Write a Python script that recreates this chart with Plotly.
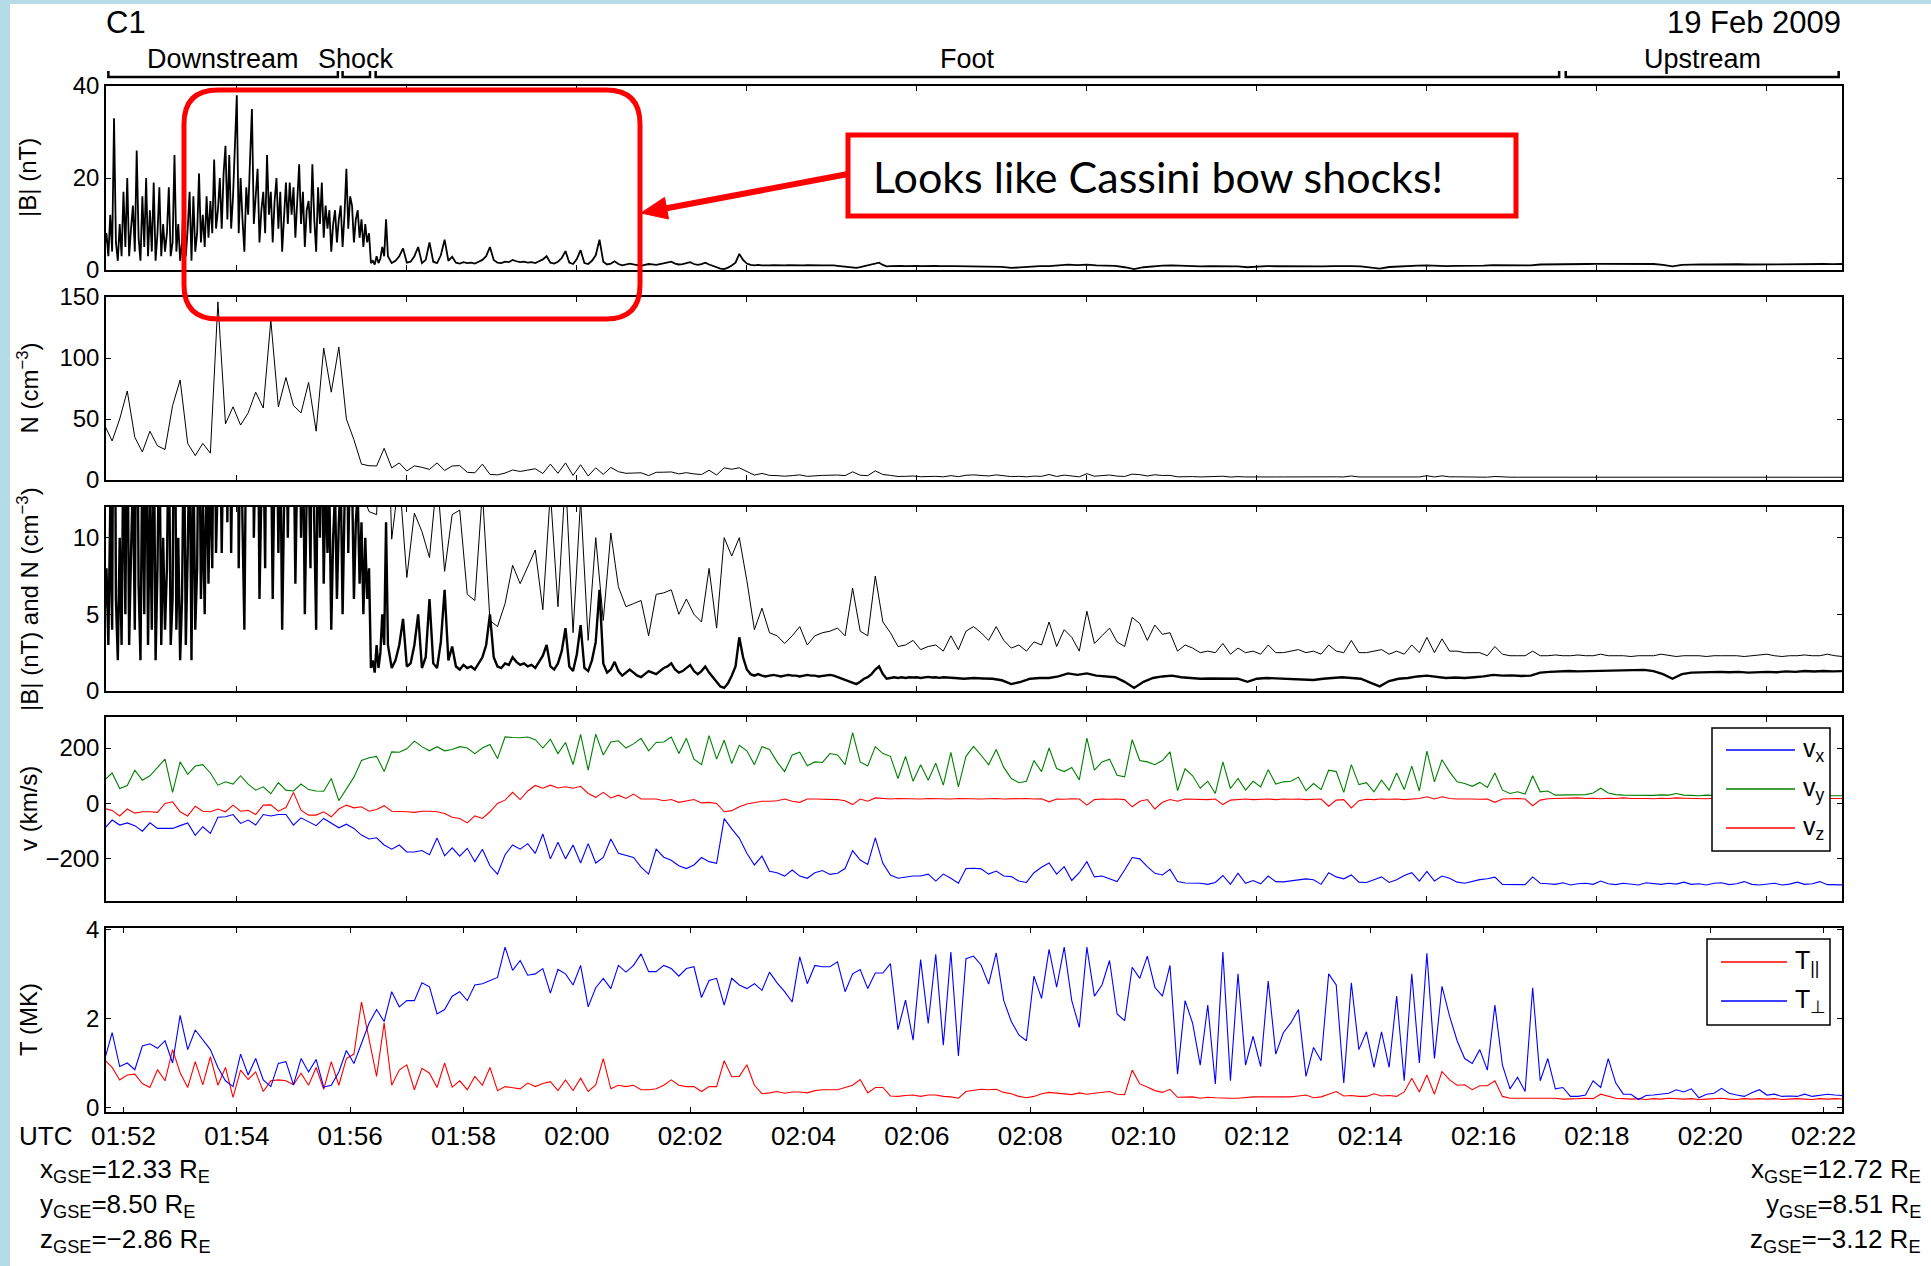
import numpy as np
import pandas as pd
import plotly.graph_objects as go

W, H = 1931, 1266
DAY = "2009-02-19"
FONT = "Liberation Sans, Arial, Helvetica, sans-serif"

# ---------------------------------------------------------------- data
# Ion moments, one sample every 8 s starting 01:51:40 UT
MOM_START, MOM_STEP_S = "01:51:40", 8

n_cm3 = [
    45, 32, 50, 73, 35, 23, 40, 28, 25, 61,
    82, 30, 20, 30, 22, 146, 46, 60, 45, 55,
    72, 59, 131, 60, 84, 61, 55, 80, 40, 108,
    72, 109, 50, 33, 13, 11.7, 11.5, 26, 9.9, 14,
    7.4, 11.6, 10.4, 8.7, 14, 7.8, 11.5, 11.8, 6.3, 5.9,
    13, 4.6, 4.2, 5.7, 8.2, 7.0, 8.1, 9.2, 5.3, 13,
    5.5, 14, 3.8, 12.5, 3.3, 10, 4.6, 10.3, 6.8, 5.5,
    5.7, 5.9, 3.6, 6.3, 6.4, 6.6, 5.0, 6.0, 5.0, 4.5,
    8.0, 4.1, 10.0, 8.8, 10.0, 7.2, 4.0, 5.4, 3.8, 3.6,
    3.1, 3.6, 4.2, 3.0, 3.6, 3.8, 3.9, 4.1, 3.6, 6.7,
    3.9, 3.6, 7.5, 4.5, 3.8, 2.9, 3.0, 3.3, 2.7, 2.9,
    3.0, 2.6, 3.6, 2.7, 3.9, 4.2, 3.8, 3.3, 4.2, 3.3,
    2.8, 3.0, 2.6, 3.2, 3.0, 4.5, 2.9, 4.0, 3.5, 2.6,
    5.2, 3.1, 3.6, 4.1, 3.2, 2.9, 4.8, 4.4, 3.3, 4.3,
    3.7, 3.8, 2.6, 3.0, 2.8, 2.5, 2.6, 2.5, 3.1, 2.4,
    2.8, 2.5, 2.6, 2.4, 3.0, 2.5, 2.5, 2.6, 2.7, 2.5,
    2.6, 2.4, 3.0, 2.6, 2.5, 3.3, 2.5, 2.5, 2.6, 2.7,
    2.4, 2.6, 2.4, 3.0, 2.5, 3.5, 2.5, 3.4, 2.6, 2.6,
    2.5, 2.5, 2.5, 2.3, 2.9, 2.4, 2.3, 2.3, 2.3, 2.6,
    2.3, 2.3, 2.35, 2.3, 2.3, 2.35, 2.3, 2.3, 2.4, 2.3,
    2.3, 2.3, 2.25, 2.3, 2.3, 2.3, 2.4, 2.3, 2.25, 2.3,
    2.3, 2.3, 2.25, 2.3, 2.3, 2.3, 2.3, 2.25, 2.3, 2.35,
    2.4, 2.3, 2.25, 2.3, 2.3, 2.35, 2.3, 2.3, 2.4, 2.3,
    2.25,
]

vx_kms = [
    -90, -60, -78, -70, -80, -100, -70, -90, -90, -90,
    -80, -70, -115, -84, -108, -50, -48, -40, -72, -60,
    -78, -40, -45, -40, -40, -78, -52, -65, -80, -54,
    -72, -88, -75, -90, -114, -128, -124, -150, -165, -150,
    -175, -175, -170, -185, -125, -189, -160, -190, -162, -210,
    -165, -225, -255, -185, -150, -165, -145, -180, -110, -200,
    -140, -200, -150, -215, -145, -215, -195, -128, -180, -188,
    -195, -230, -255, -165, -194, -205, -225, -235, -222, -195,
    -210, -216, -55, -92, -125, -180, -222, -190, -245, -250,
    -262, -240, -262, -270, -250, -242, -256, -252, -235, -170,
    -204, -220, -124, -216, -258, -270, -265, -262, -262, -255,
    -280, -255, -270, -288, -235, -234, -236, -255, -244, -262,
    -264, -280, -285, -250, -230, -215, -255, -228, -278, -250,
    -210, -265, -262, -272, -282, -240, -195, -200, -228, -252,
    -258, -238, -282, -287, -288, -288, -292, -285, -260, -292,
    -252, -288, -278, -290, -262, -282, -283, -280, -276, -272,
    -275, -292, -250, -265, -272, -258, -284, -285, -275, -265,
    -285, -275, -260, -250, -280, -245, -280, -262, -270, -284,
    -288, -282, -275, -272, -266, -292, -293, -294, -293, -265,
    -288, -290, -292, -286, -294, -290, -288, -292, -280, -290,
    -293, -288, -290, -294, -286, -290, -292, -288, -291, -284,
    -292, -290, -294, -288, -286, -293, -290, -282, -292, -294,
    -290, -288, -294, -291, -284, -292, -290, -282, -293, -294,
    -294,
]

vy_kms = [
    84, 110, 54, 65, 120, 84, 100, 130, 160, 40,
    150, 105, 135, 140, 110, 66, 78, 70, 100, 70,
    48, 60, 35, 75, 48, 45, 70, 50, 45, 44,
    90, 10, 54, 95, 155, 165, 170, 115, 186, 185,
    197, 225, 205, 190, 205, 190, 195, 205, 200, 180,
    200, 213, 162, 240, 238, 237, 240, 230, 200, 232,
    180, 220, 140, 249, 120, 250, 175, 222, 226, 200,
    215, 235, 190, 220, 222, 240, 180, 235, 160, 140,
    245, 160, 228, 144, 210, 190, 140, 205, 195, 150,
    115, 175, 185, 136, 150, 148, 180, 175, 140, 256,
    150, 135, 205, 180, 170, 90, 170, 80, 140, 84,
    145, 66, 184, 60, 170, 206, 174, 140, 195, 130,
    90, 75, 80, 155, 115, 200, 126, 115, 130, 85,
    236, 120, 150, 160, 102, 96, 230, 155, 150, 140,
    155, 186, 46, 125, 100, 55, 80, 36, 150, 54,
    90, 48, 80, 60, 122, 70, 78, 80, 95, 46,
    72, 50, 120, 115, 40, 140, 68, 75, 42, 84,
    48, 110, 50, 135, 45, 189, 78, 158, 114, 78,
    72, 62, 76, 58, 110, 48, 36, 42, 34, 100,
    42, 45, 30, 30, 30, 30, 32, 38, 55, 38,
    32, 30, 30, 28, 30, 29, 31, 30, 36, 30,
    29, 28, 30, 29, 28, 30, 29, 28, 29, 30,
    28, 29, 28, 30, 29, 28, 29, 28, 28, 29,
    28,
]

vz_kms = [
    -18, -25, -45, -20, -35, -30, -30, -32, 0, 6,
    -30, -45, -10, -28, -30, -20, -30, -6, -28, -25,
    -40, -6, -5, -28, -15, 40, -24, -42, -42, -30,
    -48, -20, -6, -16, -12, -28, -22, -8, -28, -28,
    -30, -32, -28, -28, -30, -36, -50, -54, -70, -45,
    -54, -30, 0, 12, 40, 14, 45, 65, 55, 66,
    56, 60, 55, 62, 36, 22, 40, 20, 30, 18,
    34, 16, 16, 16, 10, 14, 4, 8, 14, 2,
    4, 0, -30, -26, -12, -2, 4, 8, 8, 10,
    16, 8, 4, 16, 16, 16, 16, 14, 10, -4,
    16, 8, 20, 18, 16, 18, 17, 18, 16, 18,
    17, 18, 16, 18, 17, 18, 16, 17, 18, 16,
    17, 16, 18, 16, 17, 6, 16, 15, 17, 16,
    -6, 14, 16, 15, 16, 14, -12, 8, 14, -20,
    4, 14, 8, 16, 15, 16, 14, 16, -4, 12,
    15, 16, 14, 15, 16, 14, 16, 15, 16, 14,
    15, 16, -10, 12, 14, -16, 10, 15, 14, 16,
    15, 16, 14, 16, 18, 24, 16, 24, 18, 16,
    17, 16, 15, 16, 4, 16, 17, 18, 16, -8,
    12, 17, 18, 19, 18, 20, 18, 19, 17, 19,
    18, 20, 18, 19, 18, 17, 19, 18, 20, 19,
    18, 19, 17, 19, 18, 20, 18, 19, 18, 17,
    18, 19, 20, 18, 19, 18, 17, 19, 18, 19,
    18,
]

t_par_mk = [
    1.07, 0.9, 0.62, 0.73, 0.75, 0.54, 0.45, 0.85, 0.6, 1.3,
    0.78, 0.45, 1.03, 0.51, 1.14, 0.5, 0.9, 0.23, 0.84, 0.63,
    0.8, 0.36, 0.6, 0.62, 0.6, 0.51, 0.77, 0.5, 0.9, 0.41,
    1.03, 0.5, 1.1, 1.2, 2.37, 1.5, 0.7, 1.9, 0.5, 0.84,
    0.96, 0.4, 0.88, 0.77, 0.45, 1.0, 0.46, 0.6, 0.4, 0.7,
    0.5, 0.9, 0.38, 0.47, 0.45, 0.42, 0.55, 0.47, 0.54, 0.58,
    0.38, 0.62, 0.38, 0.66, 0.36, 0.51, 1.1, 0.42, 0.5, 0.47,
    0.5, 0.4, 0.4, 0.42, 0.5, 0.62, 0.5, 0.47, 0.47, 0.36,
    0.47, 0.47, 1.05, 0.69, 0.7, 0.96, 0.5, 0.31, 0.33, 0.36,
    0.32, 0.35, 0.35, 0.33, 0.38, 0.4, 0.4, 0.4, 0.45, 0.5,
    0.63, 0.33, 0.45, 0.45, 0.26, 0.25, 0.27, 0.28, 0.25, 0.28,
    0.28, 0.25, 0.24, 0.21, 0.36, 0.38, 0.41, 0.4, 0.41, 0.34,
    0.31, 0.25, 0.22, 0.25, 0.31, 0.34, 0.32, 0.31, 0.29, 0.33,
    0.3, 0.32, 0.34, 0.36, 0.3, 0.29, 0.84, 0.53, 0.46, 0.38,
    0.34, 0.41, 0.23, 0.24, 0.24, 0.21, 0.23, 0.22, 0.21, 0.21,
    0.21, 0.23, 0.24, 0.24, 0.24, 0.23, 0.24, 0.24, 0.26, 0.28,
    0.22, 0.24, 0.3, 0.36, 0.26, 0.27, 0.25, 0.25, 0.31, 0.26,
    0.27, 0.25, 0.35, 0.66, 0.35, 0.73, 0.3, 0.81, 0.62, 0.5,
    0.51, 0.4, 0.49, 0.49, 0.6, 0.25, 0.21, 0.21, 0.21, 0.22,
    0.21, 0.21, 0.21, 0.19, 0.19, 0.2, 0.21, 0.2, 0.3, 0.26,
    0.21, 0.2, 0.19, 0.2, 0.18, 0.2, 0.19, 0.21, 0.2, 0.19,
    0.2, 0.18, 0.19, 0.2, 0.21, 0.19, 0.18, 0.2, 0.19, 0.2,
    0.19, 0.2, 0.18, 0.19, 0.2, 0.19, 0.18, 0.2, 0.19, 0.2,
    0.19,
]

t_perp_mk = [
    1.07, 1.68, 0.92, 1.0, 0.85, 1.38, 1.43, 1.33, 1.5, 1.0,
    2.07, 1.3, 1.74, 1.51, 1.3, 0.9, 0.6, 0.47, 1.2, 0.73,
    1.1, 0.62, 0.47, 0.99, 1.03, 0.51, 1.1, 0.8, 1.08, 0.46,
    0.5, 0.8, 1.28, 0.99, 1.44, 1.89, 2.2, 1.93, 2.6, 2.26,
    2.4, 2.4, 2.8, 2.71, 2.1, 2.2, 2.5, 2.6, 2.4, 2.75,
    2.78, 2.85, 2.92, 3.6, 3.08, 3.3, 2.97, 3.0, 3.12, 2.57,
    3.1, 3.0, 2.75, 3.19, 2.26, 2.69, 2.9, 2.67, 3.19, 3.04,
    3.19, 3.45, 3.05, 3.05, 3.19, 3.12, 2.95, 3.12, 3.16, 2.47,
    2.85, 2.9, 2.3, 2.9, 2.75, 2.67, 2.78, 2.63, 3.04, 2.8,
    2.6, 2.37, 3.38, 2.78, 3.19, 3.16, 3.16, 3.27, 2.6, 3.0,
    3.1, 2.67, 3.02, 3.02, 3.23, 1.75, 2.41, 1.51, 3.32, 1.89,
    3.44, 1.40, 3.49, 1.16, 3.34, 3.4, 3.2, 2.77, 3.47, 2.4,
    1.93, 1.63, 1.5, 2.95, 2.45, 3.55, 2.7, 3.6, 2.4, 1.8,
    3.6, 2.5, 2.75, 3.3, 2.1, 1.95, 3.15, 2.9, 3.4, 2.7,
    2.5, 3.19, 0.75, 2.4, 1.89, 0.95, 2.3, 0.53, 3.49, 0.6,
    3.0, 0.95, 1.6, 0.92, 2.84, 1.2, 1.68, 1.9, 2.2, 0.7,
    1.35, 1.05, 3.0, 2.75, 0.55, 2.8, 1.3, 1.7, 0.9, 1.7,
    0.9, 2.5, 0.6, 3.0, 1.0, 3.46, 1.1, 2.72, 2.05, 1.5,
    1.1, 0.99, 1.3, 0.84, 2.3, 0.95, 0.42, 0.68, 0.36, 2.69,
    0.6, 1.1, 0.42, 0.45, 0.25, 0.25, 0.28, 0.6, 0.45, 1.1,
    0.55, 0.3, 0.3, 0.18, 0.27, 0.28, 0.3, 0.32, 0.4, 0.35,
    0.42, 0.22, 0.3, 0.32, 0.43, 0.32, 0.28, 0.25, 0.33, 0.4,
    0.28, 0.3, 0.25, 0.26, 0.25, 0.3, 0.25, 0.28, 0.3, 0.28,
    0.27,
]

# Magnetic field magnitude, three cadences
B_DOWN_START, B_DOWN_STEP_S = "01:51:40", 2
b_down_nt = [
    5, 8, 3, 12, 4, 33, 6, 2, 10, 3,
    17, 5, 20, 3, 9, 14, 4, 26, 7, 2,
    16, 5, 20, 3, 13, 4, 19, 2, 8, 18,
    3, 10, 4, 8, 18, 3, 6, 25, 4, 10,
    2, 6, 18, 3, 9, 17, 2, 16, 4, 8,
    21, 6, 12, 5, 16, 7, 15, 8, 24, 9,
    13, 20, 9, 21, 27, 11, 25, 9, 16, 28,
    38, 8, 20, 11, 4, 18, 12, 24, 35, 10,
    16, 22, 6, 13, 17, 8, 25, 12, 17, 6,
    15, 20, 9, 17, 4, 12, 19, 10, 19, 12,
    18, 7, 15, 23, 10, 17, 5, 13, 15, 8,
    23, 11, 4, 18, 10, 19, 7, 14, 9, 13,
    4, 10, 13, 6, 11, 14, 5, 12, 22, 9,
    16, 14, 6, 11, 13, 7, 11, 5, 10, 6,
    8, 1.5, 2, 1.2, 3, 1.5, 2.5, 5, 3, 11,
]
B_FOOT_START, B_FOOT_STEP_S = "01:56:40", 4
b_foot_nt = [
    3.0, 1.5, 2.0, 3.0, 4.7, 1.6, 1.8, 3.0, 5.0, 1.5,
    2.2, 6.0, 1.8, 1.5, 3.2, 6.6, 2.0, 2.9, 1.6, 1.4,
    1.7, 1.5, 1.6, 1.4, 1.8, 2.2, 3.0, 5.0, 2.2, 1.6,
    1.5, 1.8, 1.7, 2.2, 1.9, 1.7, 1.8, 1.6, 1.7, 1.5,
    1.9, 2.3, 3.0, 1.6, 1.4, 1.8, 2.6, 4.1, 1.6, 1.3,
    2.4, 4.3, 1.5, 1.3, 2.0, 3.2, 6.6, 1.8, 1.2, 1.4,
    1.9, 1.3, 1.0, 1.2, 1.4, 1.2, 1.0, 0.9, 1.1, 1.3,
    1.2, 1.1, 1.3, 1.5, 1.6, 1.8, 1.4, 1.2, 1.3, 1.5,
    1.7, 1.3, 1.1, 1.3, 1.6, 1.2, 0.9, 0.6, 0.3, 0.2,
    0.5, 1.0, 1.6, 3.5, 2.2, 1.4, 1.1, 1.0, 1.1, 1.0,
    0.95, 1.0, 1.05, 1.0, 0.95, 1.0, 1.05, 1.0, 1.0, 0.95,
    1.0, 1.05, 1.0, 1.0, 0.95, 1.0, 1.0, 1.05, 1.0, 0.9,
    0.8, 0.7, 0.6, 0.5, 0.45, 0.6, 0.8, 0.9, 1.1, 1.4,
    1.6, 1.1, 0.8, 0.85, 0.9, 0.85, 0.9, 0.85, 0.9, 0.88,
    0.9, 0.85, 0.9, 0.92, 0.88, 0.9, 0.86, 0.9, 0.88, 0.85,
]
B_UP_START, B_UP_STEP_S = "02:06:40", 10
b_up_nt = [
    0.85, 0.8, 0.85, 0.82, 0.8, 0.7, 0.45, 0.6, 0.8, 0.85,
    0.85, 0.95, 1.15, 1.05, 1.15, 1.0, 0.95, 0.9, 0.6, 0.2,
    0.6, 0.85, 0.95, 1.0, 0.9, 0.85, 0.8, 0.82, 0.8, 0.78,
    0.8, 0.6, 0.8, 0.85, 0.82, 0.8, 0.78, 0.75, 0.72, 0.8,
    0.85, 0.9, 0.85, 0.8, 0.55, 0.3, 0.65, 0.8, 0.85, 0.95,
    1.0, 0.9, 0.85, 0.88, 0.85, 0.9, 0.95, 1.05, 1.0, 1.02,
    0.98, 1.0, 1.2, 1.25, 1.28, 1.3, 1.28, 1.3, 1.32, 1.3,
    1.33, 1.35, 1.35, 1.38, 1.3, 1.1, 0.8, 1.1, 1.2, 1.22,
    1.2, 1.25, 1.22, 1.25, 1.2, 1.23, 1.25, 1.22, 1.28, 1.25,
    1.3, 1.27, 1.3, 1.28, 1.3,
]

upper_ticks = ["01:54", "01:57", "02:00", "02:03", "02:06",
               "02:09", "02:12", "02:15", "02:18", "02:21"]
time_labels = ["01:52", "01:54", "01:56", "01:58", "02:00", "02:02",
               "02:04", "02:06", "02:08", "02:10", "02:12", "02:14",
               "02:16", "02:18", "02:20", "02:22"]

region_names = ["Downstream", "Shock", "Foot", "Upstream"]
region_from = ["01:51:44", "01:55:52", "01:56:27", "02:17:27"]
region_to = ["01:55:47", "01:56:21", "02:17:20", "02:22:16"]

gse_first = ["12.33", "8.50", "−2.86"]
gse_last = ["12.72", "8.51", "−3.12"]

# ---------------------------------------------------------------- helpers
T_LEFT = pd.Timestamp(f"{DAY} 01:51:41.5")
T_RIGHT = pd.Timestamp(f"{DAY} 02:22:19.5")
X_LEFT, X_RIGHT = 106, 1842
PANELS = [(86, 270), (297, 480), (507, 691), (717, 901), (928, 1112)]


def X(p):
    return p / W


def Y(p):
    return 1 - p / H


def ts(hms):
    return pd.Timestamp(f"{DAY} {hms}")


def sample_times(start, step, n):
    return ts(start) + pd.to_timedelta(np.arange(n) * step, unit="s")


def time_px(hms):
    frac = (ts(hms) - T_LEFT) / (T_RIGHT - T_LEFT)
    return X_LEFT + frac * (X_RIGHT - X_LEFT)


t_b = np.concatenate([
    sample_times(B_DOWN_START, B_DOWN_STEP_S, len(b_down_nt)),
    sample_times(B_FOOT_START, B_FOOT_STEP_S, len(b_foot_nt)),
    sample_times(B_UP_START, B_UP_STEP_S, len(b_up_nt)),
])
b_nt = b_down_nt + b_foot_nt + b_up_nt


def mom_t(values):
    return sample_times(MOM_START, MOM_STEP_S, len(values))


BLUE, GREEN, RED, BLACK = "#0000ff", "#008000", "#ff0000", "#000000"

fig = go.Figure()


def add(panel, t, y, color, width):
    sfx = "" if panel == 1 else str(panel)
    fig.add_trace(go.Scatter(
        x=t, y=y, mode="lines", line=dict(color=color, width=width),
        xaxis="x" + sfx, yaxis="y" + sfx, showlegend=False, hoverinfo="skip"))


add(1, t_b, b_nt, BLACK, 1.8)
add(2, mom_t(n_cm3), n_cm3, BLACK, 1.0)
add(3, mom_t(n_cm3), n_cm3, BLACK, 1.0)
add(3, t_b, b_nt, BLACK, 2.4)
add(4, mom_t(vx_kms), vx_kms, BLUE, 1.1)
add(4, mom_t(vy_kms), vy_kms, GREEN, 1.1)
add(4, mom_t(vz_kms), vz_kms, RED, 1.1)
add(5, mom_t(t_par_mk), t_par_mk, RED, 1.1)
add(5, mom_t(t_perp_mk), t_perp_mk, BLUE, 1.1)

# ---------------------------------------------------------------- axes
y_specs = [
    dict(range=[0, 40], tickvals=[0, 20, 40], ticktext=["0", "20", "40"]),
    dict(range=[0, 150], tickvals=[0, 50, 100, 150],
         ticktext=["0", "50", "100", "150"]),
    dict(range=[0, 12], tickvals=[0, 5, 10], ticktext=["0", "5", "10"]),
    dict(range=[-352, 312], tickvals=[-200, 0, 200],
         ticktext=["−200", "0", "200"]),
    dict(range=[-0.1, 4.03], tickvals=[0, 2, 4], ticktext=["0", "2", "4"]),
]
y_titles = ["|B| (nT)", "N (cm<sup>−3</sup>)",
            "|B| (nT) and N (cm<sup>−3</sup>)", "v (km/s)", "T (MK)"]

frame = dict(showline=True, linecolor=BLACK, linewidth=1.5, mirror="ticks",
             ticks="inside", ticklen=5, tickwidth=1.2, tickcolor=BLACK,
             showgrid=False, zeroline=False, fixedrange=True,
             automargin=False)

layout = {}
for k, (top, bot) in enumerate(PANELS, start=1):
    sfx = "" if k == 1 else str(k)
    last = k == len(PANELS)
    tick_src = time_labels if last else upper_ticks
    xa = dict(frame, type="date", range=[T_LEFT, T_RIGHT],
              domain=[X(X_LEFT), X(X_RIGHT)], anchor="y" + sfx,
              tickmode="array", tickvals=[ts(s + ":00") for s in tick_src],
              ticktext=tick_src, showticklabels=last,
              tickfont=dict(family=FONT, size=26, color=BLACK))
    ya = dict(frame, domain=[Y(bot), Y(top)], anchor="x" + sfx,
              tickmode="array", tickfont=dict(family=FONT, size=24, color=BLACK),
              **y_specs[k - 1])
    layout["xaxis" + sfx] = xa
    layout["yaxis" + sfx] = ya

annotations = []
shapes = []

# white page on the light-blue slide border
shapes.append(dict(type="rect", xref="paper", yref="paper", x0=X(10), x1=1,
                   y0=0, y1=Y(4), fillcolor="white", line=dict(width=0),
                   layer="below"))


def text(x, y, s, size=26, xanchor="left", yanchor="middle", angle=0,
         family=FONT, color=BLACK):
    annotations.append(dict(
        x=X(x), y=Y(y), xref="paper", yref="paper", text=s, showarrow=False,
        xanchor=xanchor, yanchor=yanchor, textangle=angle,
        font=dict(family=family, size=size, color=color)))


for (top, bot), title in zip(PANELS, y_titles):
    text(28, (top + bot) / 2, title, size=24, xanchor="center", angle=-90)

text(104, 22, "C1", size=31)
text(1843, 22, "19 Feb 2009", size=31, xanchor="right")

# region brackets above the first panel
for name, a, b in zip(region_names, region_from, region_to):
    x0, x1 = time_px(a), time_px(b)
    path = (f"M {X(x0)},{Y(71)} L {X(x0)},{Y(77)} "
            f"L {X(x1)},{Y(77)} L {X(x1)},{Y(71)}")
    shapes.append(dict(type="path", xref="paper", yref="paper", path=path,
                   line=dict(color=BLACK, width=2.5)))
    text((x0 + x1) / 2, 59, name, size=27, xanchor="center")

# time axis caption and spacecraft positions
text(17, 1136, "UTC", size=26)
comps = ["x", "y", "z"]
for i, (c, v0, v1) in enumerate(zip(comps, gse_first, gse_last)):
    yy = 1170 + 35 * i
    text(38, yy, f"{c}<sub>GSE</sub>={v0} R<sub>E</sub>", size=26)
    text(1923, yy, f"{c}<sub>GSE</sub>={v1} R<sub>E</sub>", size=26,
         xanchor="right")


# legend boxes drawn in the MATLAB style
def legend(box, rows, x_line0, x_line1, x_text):
    x0, y0, x1, y1 = box
    shapes.append(dict(type="rect", xref="paper", yref="paper",
                       x0=X(x0), x1=X(x1), y0=Y(y1), y1=Y(y0),
                       fillcolor="white", line=dict(color=BLACK, width=1.5)))
    for yy, label, color in rows:
        shapes.append(dict(type="line", xref="paper", yref="paper",
                           x0=X(x_line0), x1=X(x_line1), y0=Y(yy), y1=Y(yy),
                           line=dict(color=color, width=1.3)))
        text(x_text, yy, label, size=25)


legend((1712, 728, 1830, 851),
       [(750, "v<sub>x</sub>", BLUE), (789, "v<sub>y</sub>", GREEN),
        (828, "v<sub>z</sub>", RED)], 1726, 1795, 1801)
legend((1707, 939, 1830, 1025),
       [(962, "T<sub>||</sub>", RED), (1001, "T<sub>⊥</sub>", BLUE)],
       1721, 1787, 1793)

# highlight: rounded frame, call-out box and arrow
x0, y0, x1, y1, r = 184, 90, 640, 319, 34
rr = (f"M {X(x0 + r)},{Y(y0)} L {X(x1 - r)},{Y(y0)} "
      f"Q {X(x1)},{Y(y0)} {X(x1)},{Y(y0 + r)} L {X(x1)},{Y(y1 - r)} "
      f"Q {X(x1)},{Y(y1)} {X(x1 - r)},{Y(y1)} L {X(x0 + r)},{Y(y1)} "
      f"Q {X(x0)},{Y(y1)} {X(x0)},{Y(y1 - r)} L {X(x0)},{Y(y0 + r)} "
      f"Q {X(x0)},{Y(y0)} {X(x0 + r)},{Y(y0)} Z")
shapes.append(dict(type="path", xref="paper", yref="paper", path=rr,
                   line=dict(color=RED, width=5)))
shapes.append(dict(type="rect", xref="paper", yref="paper",
                   x0=X(848), x1=X(1516), y0=Y(216), y1=Y(135),
                   fillcolor="white", line=dict(color=RED, width=5)))
text(871, 176, "Looks like Cassini bow shocks!", size=43,
     family="Lato, Open Sans, sans-serif")

tip = np.array([641.0, 213.0])
tail = np.array([848.0, 174.0])
u = (tail - tip) / np.linalg.norm(tail - tip)
nrm = np.array([u[1], -u[0]])
base = tip + 26 * u
c1, c2 = base + 11 * nrm, base - 11 * nrm
shapes.append(dict(type="line", xref="paper", yref="paper",
                   x0=X(base[0]), y0=Y(base[1]), x1=X(tail[0]), y1=Y(tail[1]),
                   line=dict(color=RED, width=6)))
shapes.append(dict(type="path", xref="paper", yref="paper",
                   path=(f"M {X(tip[0])},{Y(tip[1])} L {X(c1[0])},{Y(c1[1])} "
                         f"L {X(c2[0])},{Y(c2[1])} Z"),
                   fillcolor=RED, line=dict(color=RED, width=1)))

fig.update_layout(
    width=W, height=H,
    margin=dict(l=0, r=0, t=0, b=0, pad=0, autoexpand=False),
    paper_bgcolor="#b4dbe7", plot_bgcolor="white",
    font=dict(family=FONT, color=BLACK), showlegend=False,
    annotations=annotations, shapes=shapes, **layout)

fig.write_html("out.html")
